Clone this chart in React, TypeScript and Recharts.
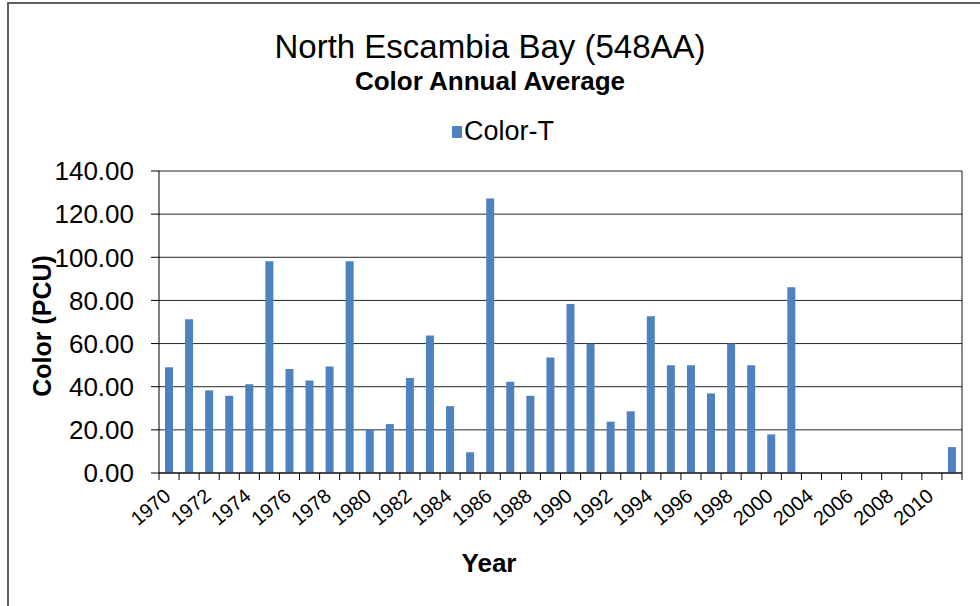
import { Bar, BarChart, CartesianGrid, XAxis, YAxis } from "recharts";

// annual averages, years with no sample are left empty
const years = [
  "1970", "1971", "1972", "1973", "1974", "1975", "1976", "1977", "1978", "1979",
  "1980", "1981", "1982", "1983", "1984", "1985", "1986", "1987", "1988", "1989",
  "1990", "1991", "1992", "1993", "1994", "1995", "1996", "1997", "1998", "1999",
  "2000", "2002", "2004", "2005", "2006", "2007", "2008", "2009", "2010", "2011",
];
const colorT: (number | null)[] = [
  49.0, 71.3, 38.3, 35.8, 41.1, 98.2, 48.2, 42.9, 49.4, 98.2,
  20.1, 22.7, 44.0, 63.7, 31.0, 9.6, 127.2, 42.3, 35.8, 53.6,
  78.4, 59.9, 23.8, 28.6, 72.7, 49.9, 49.9, 36.9, 60.0, 49.9,
  17.9, 86.1, null, null, null, null, null, null, null, 12.0,
];
const yTicks = [0, 20, 40, 60, 80, 100, 120, 140];

const data = years.map((year, i) => ({ year, colorT: colorT[i] }));

const FONT = '"Liberation Sans", Arial, sans-serif';
const BLUE = "#4F81BD";

function YearTick(props: any) {
  const { x, y, payload } = props;
  const index = props.index ?? payload?.index ?? 0;
  const half = payload?.offset ?? 10;
  const tx = x + 3;
  const ty = y + 25;
  return (
    <g>
      <line x1={x - half} x2={x - half} y1={y} y2={y + 7} stroke="#000" />
      {index === years.length - 1 && (
        <line x1={x + half} x2={x + half} y1={y} y2={y + 7} stroke="#000" />
      )}
      {index % 2 === 0 && (
        <text
          x={tx}
          y={ty}
          textAnchor="end"
          transform={`rotate(-40, ${tx}, ${ty})`}
          fontSize={20}
          fontFamily={FONT}
          fill="#000"
        >
          {payload.value}
        </text>
      )}
    </g>
  );
}

export default function App() {
  return (
    <div
      style={{
        position: "absolute",
        left: 0,
        top: 0,
        width: 980,
        height: 606,
        overflow: "hidden",
        background: "#fff",
        fontFamily: FONT,
        color: "#000",
      }}
    >
      <div
        style={{
          position: "absolute",
          left: 7,
          top: 2,
          width: 1100,
          height: 800,
          border: "2px solid #5f5f5f",
        }}
      />
      {/* plot area frame, right edge */}
      <div style={{ position: "absolute", left: 961, top: 171, width: 2, height: 302, background: "#8c8c8c" }} />
      <div style={{ position: "absolute", left: 0, width: 980, top: 30, textAlign: "center", fontSize: 33, lineHeight: "33px" }}>
        North Escambia Bay (548AA)
      </div>
      <div style={{ position: "absolute", left: 0, width: 980, top: 68, textAlign: "center", fontSize: 26, lineHeight: "26px", fontWeight: "bold" }}>
        Color Annual Average
      </div>
      <div style={{ position: "absolute", left: 452, top: 118, display: "flex", alignItems: "center", fontSize: 27, lineHeight: "27px" }}>
        <span style={{ width: 10, height: 12, background: BLUE, marginRight: 2 }} />
        <span>Color-T</span>
      </div>
      <div
        style={{
          position: "absolute",
          left: 42,
          top: 326,
          transform: "translate(-50%, -50%) rotate(-90deg)",
          whiteSpace: "nowrap",
          fontSize: 25,
          lineHeight: "25px",
          fontWeight: "bold",
        }}
      >
        Color (PCU)
      </div>
      <div
        style={{
          position: "absolute",
          left: 489,
          top: 563,
          transform: "translate(-50%, -50%)",
          fontSize: 26,
          lineHeight: "26px",
          fontWeight: "bold",
        }}
      >
        Year
      </div>
      <div style={{ position: "absolute", left: 0, top: 0 }}>
        <BarChart
          width={980}
          height={606}
          data={data}
          margin={{ top: 171, right: 18, bottom: 0, left: 0 }}
        >
          <CartesianGrid vertical={false} stroke="#000" strokeOpacity={0.85} />
          <XAxis
            dataKey="year"
            height={133}
            interval={0}
            tickSize={0}
            tickMargin={0}
            tickLine={false}
            axisLine={{ stroke: "#000" }}
            tick={<YearTick />}
          />
          <YAxis
            width={159}
            domain={[0, 140]}
            ticks={yTicks}
            tickFormatter={(v: number) => v.toFixed(2)}
            tickSize={8}
            tickMargin={17}
            axisLine={{ stroke: "#000" }}
            tickLine={{ stroke: "#000" }}
            tick={{ fontSize: 26, fill: "#000", fontFamily: FONT }}
          />
          <Bar
            dataKey="colorT"
            fill={BLUE}
            barSize={8}
            isAnimationActive={false}
          />
        </BarChart>
      </div>
    </div>
  );
}
